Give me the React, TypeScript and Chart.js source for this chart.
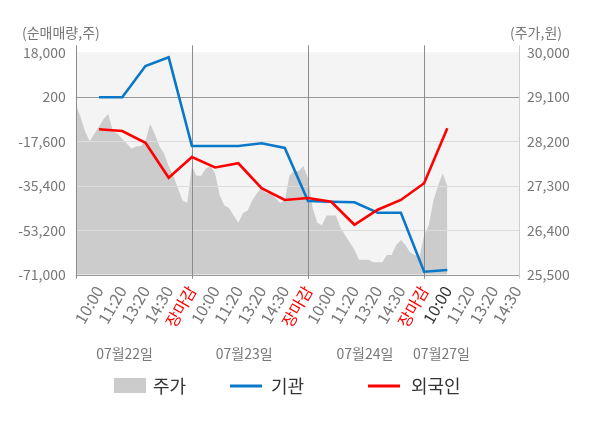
import React, { useEffect, useRef } from "react";
import { Chart, registerables, Plugin } from "chart.js";

Chart.register(...registerables);

const FONT = '"Noto Sans CJK KR", "Noto Sans", sans-serif';

// x slots 1..19 (slot 0 is the open of the first day)
const timeLabels = [
  "10:00", "11:20", "13:20", "14:30", "장마감",
  "10:00", "11:20", "13:20", "14:30", "장마감",
  "10:00", "11:20", "13:20", "14:30", "장마감",
  "10:00", "11:20", "13:20", "14:30"
];
const dayLabels = ["07월22일", "07월23일", "07월24일", "07월27일"];
const dayLabelSlots = [2.1, 7.25, 12.45, 15.75];
const dayBreaks = [0, 5, 10, 15];

const leftTicks = [-71000, -53200, -35400, -17600, 200, 18000];
const rightTicks = [25500, 26400, 27300, 28200, 29100, 30000];

// cumulative net buying (shares), one value per time label
const institution = [0, 0, 12500, 16000, -19500, -19500, -19500, -18400, -20300, -41500, -41800, -42000, -46200, -46200, -69800, -69100];
const foreign = [-12800, -13500, -18200, -32200, -23900, -28100, -26400, -36400, -41100, -40300, -41800, -51000, -45000, -41100, -34400, -12400];

// intraday price (won), one sample every priceStep slots
const priceStep = 0.2;
const priceDay1 = [28950, 28700, 28400, 28200, 28350, 28500, 28650, 28750, 28400, 28350, 28250, 28150, 28050, 28100, 28100, 28200, 28550, 28350, 28100, 27950, 27700, 27500, 27250, 27000, 26950];
const priceDay2 = [27700, 27500, 27500, 27650, 27700, 27550, 27100, 26900, 26850, 26700, 26550, 26750, 26800, 27000, 27150, 27250, 27150, 27150, 27050, 26950, 27000, 27500, 27600, 27600, 27700];
const priceDay3 = [27450, 26850, 26550, 26500, 26700, 26700, 26700, 26450, 26300, 26150, 26000, 25800, 25800, 25800, 25750, 25750, 25750, 25900, 25900, 26100, 26200, 26100, 25950, 25900, 25850];
const priceDay4 = [26300, 26500, 27000, 27300, 27550, 27300];

const PRICE_COLOR = "#cccccc";
const INST_COLOR = "#0a78c8";
const FOREIGN_COLOR = "#ff0000";

const fmt = (v: number) => Number(v).toLocaleString("en-US");

const chartDecor: Plugin = {
  id: "chartDecor",
  beforeDraw(chart) {
    const { ctx, chartArea: a } = chart;
    ctx.save();
    ctx.fillStyle = "#f4f4f4";
    ctx.fillRect(a.left, a.top, a.right - a.left, a.bottom - a.top);
    ctx.restore();
  },
  afterDatasetDraw(chart, args) {
    if (args.index !== 0) return;
    const { ctx, chartArea: a, scales } = chart;
    const line = (x1: number, y1: number, x2: number, y2: number, c: string) => {
      ctx.strokeStyle = c;
      ctx.beginPath();
      ctx.moveTo(x1, y1);
      ctx.lineTo(x2, y2);
      ctx.stroke();
    };
    ctx.save();
    ctx.lineWidth = 1;
    leftTicks.slice(1, -1).forEach((v) => {
      const y = Math.round(scales.y.getPixelForValue(v)) + 0.5;
      line(a.left, y, a.right, y, v === 200 ? "#999999" : "#dcdcdc");
    });
    const yb = Math.round(a.bottom) + 0.5;
    line(a.left, yb, a.right, yb, "#999999");
    dayBreaks.forEach((v) => {
      const x = Math.round(scales.x.getPixelForValue(v)) + 0.5;
      line(x, a.top - 7, x, a.bottom + 4, "#8c8c8c");
    });
    const xr = Math.round(a.right) - 0.5;
    line(xr, a.top - 7, xr, a.bottom + 4, "#cfcfcf");
    ctx.restore();
  },
  afterDraw(chart) {
    const { ctx, scales } = chart;
    ctx.save();
    ctx.textBaseline = "middle";
    ctx.fillStyle = "#777777";
    ctx.font = `14px ${FONT}`;
    ctx.textAlign = "left";
    ctx.fillText("(순매매량,주)", 22, 33);
    ctx.textAlign = "right";
    ctx.fillText("(주가,원)", 562, 33);
    ctx.textAlign = "center";
    dayLabels.forEach((d, i) => {
      ctx.fillText(d, scales.x.getPixelForValue(dayLabelSlots[i]), 354);
    });

    // legend
    ctx.textAlign = "left";
    ctx.font = `18px ${FONT}`;
    ctx.fillStyle = PRICE_COLOR;
    ctx.fillRect(114, 378, 32, 15);
    ctx.lineWidth = 3;
    ctx.strokeStyle = INST_COLOR;
    ctx.beginPath();
    ctx.moveTo(230, 386);
    ctx.lineTo(262, 386);
    ctx.stroke();
    ctx.strokeStyle = FOREIGN_COLOR;
    ctx.beginPath();
    ctx.moveTo(368, 386);
    ctx.lineTo(400, 386);
    ctx.stroke();
    ctx.fillStyle = "#333333";
    ctx.fillText("주가", 153, 386);
    ctx.fillText("기관", 271, 386);
    ctx.fillText("외국인", 411, 386);
    ctx.restore();
  }
};

const App = () => {
  const canvasRef = useRef<HTMLCanvasElement>(null);

  useEffect(() => {
    document.body.style.margin = "0";
    if (!canvasRef.current) return;

    const pricePoints = [priceDay1, priceDay2, priceDay3, priceDay4].flatMap((day, d) =>
      day.map((v, i) => ({ x: dayBreaks[d] + i * priceStep, y: v }))
    );

    const chart = new Chart(canvasRef.current, {
      type: "line",
      data: {
        datasets: [
          {
            label: "주가",
            data: pricePoints,
            yAxisID: "y1",
            backgroundColor: PRICE_COLOR,
            borderWidth: 0,
            pointRadius: 0,
            fill: "start",
            order: 3
          },
          {
            label: "기관",
            data: institution.map((v, i) => ({ x: i + 1, y: v })),
            yAxisID: "y",
            borderColor: INST_COLOR,
            borderWidth: 2.6,
            pointRadius: 0,
            fill: false,
            order: 2
          },
          {
            label: "외국인",
            data: foreign.map((v, i) => ({ x: i + 1, y: v })),
            yAxisID: "y",
            borderColor: FOREIGN_COLOR,
            borderWidth: 2.6,
            pointRadius: 0,
            fill: false,
            order: 1
          }
        ]
      },
      options: {
        animation: false,
        responsive: true,
        maintainAspectRatio: false,
        layout: { padding: { top: 52.3, left: 0, right: 0, bottom: 0 } },
        plugins: {
          legend: { display: false },
          tooltip: { enabled: false }
        },
        scales: {
          x: {
            type: "linear",
            min: 0,
            max: 19.13,
            afterBuildTicks: (scale) => {
              scale.ticks = timeLabels.map((_, i) => ({ value: i + 1 }));
            },
            afterFit: (scale) => {
              scale.height = 153.3;
            },
            grid: { display: false, drawTicks: false },
            border: { display: false },
            ticks: {
              autoSkip: false,
              minRotation: 60,
              maxRotation: 60,
              padding: 8,
              font: { family: FONT, size: 16 },
              color: (c: any) =>
                timeLabels[c.index] === "장마감" ? "#ff0000" : c.index === 15 ? "#333333" : "#777777",
              callback: (v: any) => timeLabels[Number(v) - 1] ?? ""
            }
          },
          y: {
            position: "left",
            min: leftTicks[0],
            max: leftTicks[leftTicks.length - 1],
            afterBuildTicks: (scale) => {
              scale.ticks = leftTicks.map((v) => ({ value: v }));
            },
            afterFit: (scale) => {
              scale.width = 75.8;
            },
            grid: { display: false, drawTicks: false },
            border: { display: false },
            ticks: {
              padding: 10,
              color: "#777777",
              font: { family: FONT, size: 14 },
              callback: (v: any) => fmt(v)
            }
          },
          y1: {
            position: "right",
            min: rightTicks[0],
            max: rightTicks[rightTicks.length - 1],
            afterBuildTicks: (scale) => {
              scale.ticks = rightTicks.map((v) => ({ value: v }));
            },
            afterFit: (scale) => {
              scale.width = 80;
            },
            grid: { display: false, drawTicks: false },
            border: { display: false },
            ticks: {
              padding: 7,
              color: "#777777",
              font: { family: FONT, size: 14 },
              callback: (v: any) => fmt(v)
            }
          }
        }
      },
      plugins: [chartDecor]
    });

    return () => {
      chart.destroy();
    };
  }, []);

  return (
    <div style={{ width: 600, height: 428, position: "relative" }}>
      <canvas ref={canvasRef} />
    </div>
  );
};

export default App;
